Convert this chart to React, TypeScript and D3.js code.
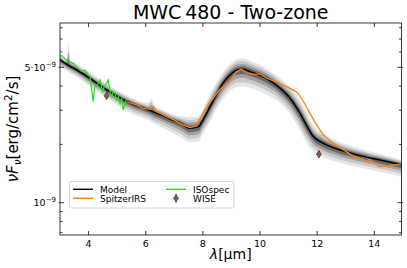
import { useRef, useEffect } from "react";
import * as d3 from "d3";

// model SED (flux in units of 1e-9 erg/cm^2/s)
const modelLambda = [3.0, 3.25, 3.3, 3.35, 3.5, 4.0, 4.5, 5.0, 5.5, 6.0, 6.1, 6.2, 6.3, 6.5, 7.0, 7.2, 7.55, 7.85, 8.0, 8.25, 8.5, 8.7, 8.95, 9.2, 9.4, 9.65, 10.2, 10.7, 11.05, 11.4, 11.65, 11.85, 12.2, 12.8, 13.5, 14.2, 14.95];
const modelFlux = [5.46, 5.17, 5.12, 5.06, 4.93, 4.43, 3.94, 3.54, 3.25, 3.05, 3.01, 2.97, 2.92, 2.85, 2.65, 2.58, 2.42, 2.47, 2.67, 3.13, 3.67, 4.13, 4.56, 4.84, 4.88, 4.75, 4.4, 3.9, 3.46, 2.89, 2.47, 2.21, 2.03, 1.87, 1.75, 1.66, 1.57];
// spread of the model ensemble (dex above / below the best model)
const bandUp = [0.031, 0.031, 0.124, 0.031, 0.031, 0.031, 0.031, 0.031, 0.031, 0.031, 0.036, 0.062, 0.036, 0.031, 0.031, 0.036, 0.057, 0.057, 0.052, 0.067, 0.062, 0.057, 0.057, 0.057, 0.057, 0.057, 0.052, 0.052, 0.057, 0.067, 0.067, 0.057, 0.052, 0.041, 0.036, 0.031, 0.026];
const bandDown = [0.036, 0.036, 0.036, 0.036, 0.036, 0.041, 0.041, 0.046, 0.052, 0.052, 0.052, 0.057, 0.057, 0.062, 0.067, 0.072, 0.072, 0.077, 0.072, 0.077, 0.077, 0.083, 0.083, 0.088, 0.088, 0.083, 0.083, 0.077, 0.083, 0.088, 0.088, 0.077, 0.072, 0.067, 0.062, 0.062, 0.062];

const irsLambda = [5.34, 5.69, 5.91, 6.15, 6.27, 6.38, 6.73, 7.02, 7.3, 7.55, 7.78, 7.9, 8.13, 8.36, 8.59, 8.94, 9.18, 9.35, 9.53, 9.76, 10.0, 10.23, 10.58, 10.93, 11.15, 11.3, 11.5, 11.74, 11.98, 12.21, 12.55, 12.79, 13.26, 13.72, 13.84, 13.95, 14.19, 14.54, 14.95];
const irsFlux = [3.32, 3.19, 3.07, 3.03, 3.14, 2.96, 2.78, 2.66, 2.52, 2.44, 2.5, 2.72, 3.13, 3.46, 3.84, 4.25, 4.75, 4.88, 4.66, 4.6, 4.62, 4.39, 4.21, 3.97, 3.82, 3.71, 3.37, 2.9, 2.52, 2.24, 2.03, 1.93, 1.74, 1.65, 1.67, 1.62, 1.53, 1.56, 1.58];

const isoLambda = [3.03, 3.17, 3.29, 3.47, 3.64, 3.76, 3.87, 3.99, 4.05, 4.11, 4.16, 4.22, 4.28, 4.4, 4.49, 4.55, 4.63, 4.69, 4.75, 4.81, 4.86, 4.92, 4.98, 5.04, 5.1, 5.16, 5.21, 5.27, 5.33];
const isoFlux = [5.79, 5.56, 5.34, 5.24, 4.94, 4.75, 4.84, 4.56, 4.47, 3.82, 3.32, 4.05, 3.97, 4.3, 3.74, 3.97, 4.13, 4.3, 3.74, 3.52, 3.74, 3.67, 3.39, 3.52, 3.26, 3.46, 3.01, 3.19, 3.46];

const wiseLambda = [4.63, 12.06];
const wiseFlux = [3.56, 1.78];
const wiseErr = [0.15, 0.08];

const xTicks = [4, 6, 8, 10, 12, 14];
const yMinorTicks = [0.7, 0.8, 0.9, 2, 3, 4, 6, 7, 8];
const yLabelTicks = [1, 5];

const App = () => {
  const ref = useRef<SVGSVGElement>(null);

  useEffect(() => {
    const svg = d3.select(ref.current);
    svg.selectAll("*").remove();

    const m = { left: 60, right: 401.5, top: 23, bottom: 235 };
    const font = "DejaVu Sans, sans-serif";
    const x = d3.scaleLinear().domain([3, 14.95]).range([m.left, m.right]);
    const y = d3.scaleLog().domain([0.681, 8.466]).range([m.bottom, m.top]);

    svg.append("rect").attr("width", 407).attr("height", 268).attr("fill", "#fff");

    svg.append("clipPath").attr("id", "plot-clip")
      .append("rect")
      .attr("x", m.left).attr("y", m.top)
      .attr("width", m.right - m.left).attr("height", m.bottom - m.top);

    const plot = svg.append("g").attr("clip-path", "url(#plot-clip)");

    // ensemble bands, widest first
    const idx = d3.range(modelLambda.length);
    const fractions = [1, 0.75, 0.5, 0.28];
    const greys = ["#e6e6e6", "#c9c9c9", "#a0a0a0", "#686868"];
    fractions.forEach((f, k) => {
      const area = d3.area<number>()
        .x((i) => x(modelLambda[i]))
        .y0((i) => y(modelFlux[i] * Math.pow(10, -bandDown[i] * f)))
        .y1((i) => y(modelFlux[i] * Math.pow(10, bandUp[i] * f)))
        .curve(d3.curveMonotoneX);
      plot.append("path").attr("d", area(idx)).attr("fill", greys[k]);
    });

    const line = (lam: number[], flux: number[]) =>
      d3.line<number>().x((i) => x(lam[i])).y((i) => y(flux[i])).curve(d3.curveMonotoneX)(d3.range(lam.length));

    plot.append("path").attr("d", line(modelLambda, modelFlux))
      .attr("fill", "none").attr("stroke", "#000").attr("stroke-width", 1.5);

    plot.append("path").attr("d", d3.line<number>().x((i) => x(isoLambda[i])).y((i) => y(isoFlux[i]))(d3.range(isoLambda.length)))
      .attr("fill", "none").attr("stroke", "#1ee01e").attr("stroke-width", 1.2);

    plot.append("path").attr("d", d3.line<number>().x((i) => x(irsLambda[i])).y((i) => y(irsFlux[i]))(d3.range(irsLambda.length)))
      .attr("fill", "none").attr("stroke", "#ff7f0e").attr("stroke-width", 1.3);

    const drawWise = (g: any, cx: number, cy: number, top: number, bot: number) => {
      g.append("line").attr("x1", cx).attr("x2", cx).attr("y1", top).attr("y2", bot)
        .attr("stroke", "#3b2621").attr("stroke-width", 1);
      g.append("path")
        .attr("d", `M${cx},${cy - 3.5}L${cx + 2.6},${cy}L${cx},${cy + 3.5}L${cx - 2.6},${cy}Z`)
        .attr("fill", "#8c564b").attr("stroke", "#4a2b25").attr("stroke-width", 0.6);
    };
    wiseLambda.forEach((l, i) => {
      drawWise(plot, x(l), y(wiseFlux[i]), y(wiseFlux[i] + wiseErr[i]), y(wiseFlux[i] - wiseErr[i]));
    });

    // frame and ticks (inward on all four sides)
    const axis = svg.append("g").attr("stroke", "#222").attr("stroke-width", 0.9);
    axis.append("rect")
      .attr("x", m.left).attr("y", m.top)
      .attr("width", m.right - m.left).attr("height", m.bottom - m.top)
      .attr("fill", "none");
    xTicks.forEach((t) => {
      axis.append("line").attr("x1", x(t)).attr("x2", x(t)).attr("y1", m.bottom).attr("y2", m.bottom - 4);
      axis.append("line").attr("x1", x(t)).attr("x2", x(t)).attr("y1", m.top).attr("y2", m.top + 4);
    });
    yMinorTicks.forEach((t) => {
      axis.append("line").attr("x1", m.left).attr("x2", m.left + 2.5).attr("y1", y(t)).attr("y2", y(t));
      axis.append("line").attr("x1", m.right).attr("x2", m.right - 2.5).attr("y1", y(t)).attr("y2", y(t));
    });
    yLabelTicks.forEach((t) => {
      axis.append("line").attr("x1", m.left - 1.5).attr("x2", m.left + 4).attr("y1", y(t)).attr("y2", y(t));
      axis.append("line").attr("x1", m.right + 1.5).attr("x2", m.right - 4).attr("y1", y(t)).attr("y2", y(t));
    });

    // tick labels
    xTicks.forEach((t) => {
      svg.append("text").attr("x", x(t)).attr("y", m.bottom + 12)
        .attr("text-anchor", "middle").attr("font-family", font).attr("font-size", 9.5)
        .text(String(t));
    });
    yLabelTicks.forEach((t) => {
      const txt = svg.append("text").attr("x", m.left - 4).attr("y", y(t) + 3.5)
        .attr("text-anchor", "end").attr("font-family", font).attr("font-size", 9.5);
      txt.append("tspan").text(t === 1 ? "10" : "5\u00b710");
      txt.append("tspan").attr("dy", -4).attr("font-size", 7).text("\u22129");
    });

    // axis labels
    const xl = svg.append("text").attr("x", (m.left + m.right) / 2).attr("y", 259)
      .attr("text-anchor", "middle").attr("font-family", font).attr("font-size", 14);
    xl.append("tspan").attr("font-style", "italic").text("\u03bb");
    xl.append("tspan").text("[\u03bcm]");

    const yl = svg.append("text")
      .attr("transform", `translate(18,${(m.top + m.bottom) / 2}) rotate(-90)`)
      .attr("text-anchor", "middle").attr("font-family", font).attr("font-size", 15);
    yl.append("tspan").attr("font-style", "italic").text("\u03bdF");
    yl.append("tspan").attr("font-style", "italic").attr("font-size", 10.5).attr("dy", 3).text("\u03bd");
    yl.append("tspan").attr("dy", -3).text("[erg/cm");
    yl.append("tspan").attr("font-size", 10.5).attr("dy", -6).text("2");
    yl.append("tspan").attr("dy", 6).text("/s]");

    // title
    svg.append("text").attr("x", (m.left + m.right) / 2).attr("y", 19)
      .attr("text-anchor", "middle").attr("font-family", font).attr("font-size", 19)
      .text("MWC\u2009480 - Two-zone");

    // legend
    const lg = svg.append("g").attr("font-family", font).attr("font-size", 9);
    lg.append("rect").attr("x", 69.5).attr("y", 181.5).attr("width", 164.5).attr("height", 26.5)
      .attr("rx", 2).attr("fill", "#fff").attr("fill-opacity", 0.85).attr("stroke", "#ccc").attr("stroke-width", 0.8);
    const entries = [
      { label: "Model", color: "#000", col: 0, row: 0 },
      { label: "SpitzerIRS", color: "#ff7f0e", col: 0, row: 1 },
      { label: "ISOspec", color: "#1ee01e", col: 1, row: 0 },
    ];
    const colX = [73, 166];
    const rowY = [189.3, 198.3];
    entries.forEach((e) => {
      lg.append("line").attr("x1", colX[e.col]).attr("x2", colX[e.col] + 20)
        .attr("y1", rowY[e.row]).attr("y2", rowY[e.row])
        .attr("stroke", e.color).attr("stroke-width", 1.4);
      lg.append("text").attr("x", colX[e.col] + 27).attr("y", rowY[e.row] + 3.2).text(e.label);
    });
    drawWise(lg, colX[1] + 10, rowY[1], rowY[1] - 4.5, rowY[1] + 4.5);
    lg.append("text").attr("x", colX[1] + 27).attr("y", rowY[1] + 3.2).text("WISE");
  }, []);

  return (
    <svg ref={ref} width={407} height={268}
      style={{ position: "absolute", left: 0, top: 0, display: "block" }} />
  );
};

export default App;
